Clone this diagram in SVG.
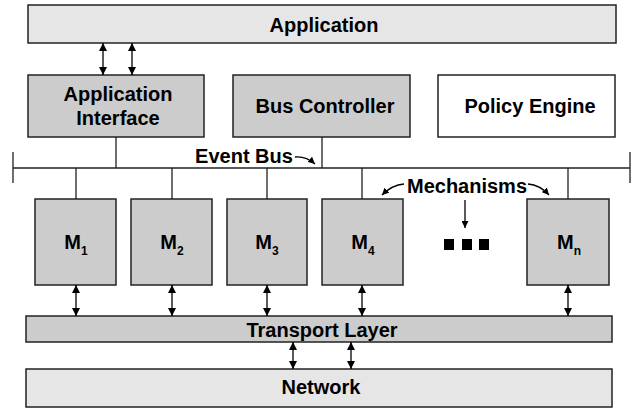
<svg xmlns="http://www.w3.org/2000/svg" width="634" height="408" viewBox="0 0 634 408">
<style>
.box{stroke:#222;stroke-width:1.5}
.light{fill:#e6e6e6}
.dark{fill:#cccccc}
.white{fill:#ffffff}
text{font-family:"Liberation Sans",Arial,sans-serif;font-weight:bold;font-size:20px;fill:#000;text-anchor:middle}
.sub{font-size:12px}
.ln{stroke:#000;stroke-width:1.3;fill:none}
.bus{stroke:#222;stroke-width:1.3;fill:none}
</style>
<defs>
<marker id="ah" viewBox="0 0 10 10" refX="10" refY="5" markerWidth="8" markerHeight="8" markerUnits="userSpaceOnUse" orient="auto-start-reverse">
<path d="M0,0 L10,5 L0,10 z" fill="#000"/>
</marker>
<marker id="sh" viewBox="0 0 10 10" refX="10" refY="5" markerWidth="7" markerHeight="7" markerUnits="userSpaceOnUse" orient="auto">
<path d="M0,0 L10,5 L0,10 z" fill="#000"/>
</marker>
</defs>
<g id="application"><rect class="box light" x="28" y="5" width="588" height="38"/><text x="324" y="32">Application</text></g>
<g id="app-interface"><rect class="box dark" x="28" y="75" width="176" height="62"/><text x="118" y="101">Application</text><text x="118" y="125">Interface</text></g>
<g id="bus-controller"><rect class="box dark" x="233" y="75" width="177" height="62"/><text x="325" y="113">Bus Controller</text></g>
<g id="policy-engine"><rect class="box white" x="438" y="75" width="177" height="62"/><text x="530" y="113">Policy Engine</text></g>
<g id="m1"><rect class="box dark" x="35" y="199" width="81" height="86"/><text x="76" y="249"><tspan>M</tspan><tspan class="sub" dy="6">1</tspan></text></g>
<g id="m2"><rect class="box dark" x="131" y="199" width="81" height="86"/><text x="172" y="249"><tspan>M</tspan><tspan class="sub" dy="6">2</tspan></text></g>
<g id="m3"><rect class="box dark" x="227" y="199" width="80" height="86"/><text x="267" y="249"><tspan>M</tspan><tspan class="sub" dy="6">3</tspan></text></g>
<g id="m4"><rect class="box dark" x="322" y="199" width="81" height="86"/><text x="363" y="249"><tspan>M</tspan><tspan class="sub" dy="6">4</tspan></text></g>
<g id="mn"><rect class="box dark" x="527" y="199" width="82" height="86"/><text x="569" y="249"><tspan>M</tspan><tspan class="sub" dy="6">n</tspan></text></g>
<g id="dots" fill="#000"><rect x="444" y="239" width="10" height="11"/><rect x="462" y="239" width="10" height="11"/><rect x="479" y="239" width="10" height="11"/></g>
<g id="transport"><rect class="box dark" x="26" y="316" width="586" height="26"/><text x="322" y="337">Transport Layer</text></g>
<g id="network"><rect class="box light" x="26" y="369" width="586" height="38"/><text x="321" y="394">Network</text></g>
<g id="labels"><text x="244" y="163">Event Bus</text><text x="467" y="193">Mechanisms</text></g>
<g id="connectors">
<path class="bus" d="M13,168 H630 M13,152 V183 M630,152 V183"/>
<path class="bus" d="M116,137 V168 M322,137 V168 M76,168 V199 M172,168 V199 M267,168 V199 M362,168 V199 M568,168 V199"/>
<path class="ln" d="M103,43 V75" marker-start="url(#ah)" marker-end="url(#ah)"/>
<path class="ln" d="M132,43 V75" marker-start="url(#ah)" marker-end="url(#ah)"/>
<path class="ln" d="M76,285 V316" marker-start="url(#ah)" marker-end="url(#ah)"/>
<path class="ln" d="M172,285 V316" marker-start="url(#ah)" marker-end="url(#ah)"/>
<path class="ln" d="M267,285 V316" marker-start="url(#ah)" marker-end="url(#ah)"/>
<path class="ln" d="M362,285 V316" marker-start="url(#ah)" marker-end="url(#ah)"/>
<path class="ln" d="M568,285 V316" marker-start="url(#ah)" marker-end="url(#ah)"/>
<path class="ln" d="M293,342 V369" marker-start="url(#ah)" marker-end="url(#ah)"/>
<path class="ln" d="M351,342 V369" marker-start="url(#ah)" marker-end="url(#ah)"/>
<path class="ln" d="M295,157 Q306,156 315,164" marker-end="url(#sh)"/>
<path class="ln" d="M404,184 Q392,185 382,195" marker-end="url(#sh)"/>
<path class="ln" d="M528,184 Q540,185 549,195" marker-end="url(#sh)"/>
<path class="ln" d="M465,200 V228" marker-end="url(#sh)"/>
</g>
</svg>
